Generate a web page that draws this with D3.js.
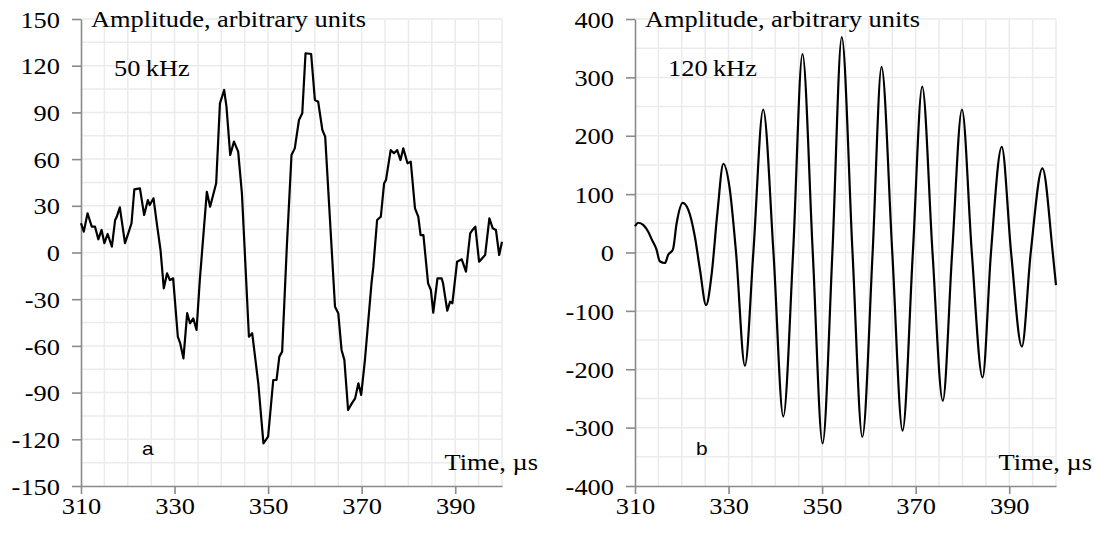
<!DOCTYPE html>
<html>
<head>
<meta charset="utf-8">
<script src="https://cdn.jsdelivr.net/npm/d3@7"></script>
<style>
  html, body { margin: 0; padding: 0; background: #fff; }
  svg { display: block; }
</style>
</head>
<body>
<svg id="chart" width="1094" height="536"></svg>
<script>
// ---------- DATA ----------
const xTicks = [310, 330, 350, 370, 390];
const leftYTicks = [-150, -120, -90, -60, -30, 0, 30, 60, 90, 120, 150];
const rightYTicks = [-400, -300, -200, -100, 0, 100, 200, 300, 400];

// panel a: 50 kHz
const leftTime = [310.0, 310.6, 311.4, 312.3, 313.0, 313.7, 314.4, 315.0, 315.7, 316.6,
  317.3, 317.6, 318.3, 319.4, 320.1, 320.8, 321.4, 322.6, 323.5, 324.3,
  324.7, 325.5, 326.3, 327.0, 327.7, 328.4, 329.0, 329.7, 330.7, 331.2,
  331.9, 332.7, 333.3, 334.0, 334.7, 335.4, 336.9, 337.6, 338.9, 339.7,
  340.6, 341.1, 341.9, 342.7, 343.6, 344.4, 345.9, 346.6, 347.9, 349.0,
  350.0, 351.1, 351.8, 352.4, 353.0, 354.0, 355.0, 355.7, 356.6, 357.3,
  358.0, 359.2, 360.0, 360.7, 361.6, 362.2, 364.3, 365.0, 365.7, 366.3,
  367.1, 367.9, 368.6, 369.3, 369.9, 370.7, 372.1, 372.5, 373.3, 374.1,
  374.8, 375.2, 376.2, 376.9, 377.6, 378.3, 378.9, 379.8, 380.5, 381.4,
  382.1, 382.6, 383.2, 384.2, 384.8, 385.3, 386.2, 387.1, 387.4, 388.3,
  388.9, 389.4, 390.4, 391.4, 392.3, 393.2, 393.7, 394.3, 395.1, 396.4,
  397.3, 398.0, 398.7, 399.4, 400.0];
const leftAmp = [18.8, 13.4, 25.2, 16.6, 16.6, 8.5, 14.5, 6.0, 11.9, 3.7,
  20.9, 22.6, 29.0, 6.0, 12.3, 18.8, 40.6, 41.2, 24.1, 33.7,
  30.5, 34.8, 16.6, 1.6, -23.0, -13.4, -17.7, -16.6, -54.1, -58.3,
  -68.0, -39.0, -45.5, -42.3, -49.8, -17.7, 39.0, 29.4, 44.5, 95.8,
  104.4, 93.7, 62.6, 71.2, 64.8, 38.0, -54.1, -51.9, -84.0, -122.6,
  -118.3, -81.9, -81.9, -66.9, -63.7, 3.7, 62.6, 66.9, 85.1, 89.4,
  128.0, 127.5, 98.0, 96.9, 78.7, 74.4, -34.8, -39.0, -62.6, -69.0,
  -101.2, -96.9, -93.7, -84.0, -91.5, -69.0, -19.8, -9.1, 20.9, 23.0,
  44.5, 46.6, 65.8, 63.7, 65.8, 59.4, 66.9, 57.3, 58.3, 28.4,
  23.0, 11.2, 11.2, -19.8, -24.1, -38.7, -16.6, -16.6, -19.8, -37.4,
  -31.6, -32.6, -5.9, -4.4, -12.3, 12.3, 14.5, 16.6, -5.9, -1.6,
  22.0, 15.6, 14.5, -1.6, 6.9];

// panel b: 120 kHz
const rightTime = [310.0, 310.7, 311.8, 312.8, 313.6, 314.6, 315.3, 316.4, 317.1, 318.1,
  318.9, 320.2, 321.4, 322.8, 323.9, 325.2, 326.4, 327.6, 328.9, 330.2,
  331.6, 333.5, 335.3, 337.4, 339.6, 341.7, 343.8, 345.8, 348.0, 350.1,
  352.2, 354.2, 356.5, 358.6, 360.8, 362.7, 365.0, 367.2, 369.4, 371.4,
  373.6, 375.8, 377.8, 379.9, 382.0, 384.3, 386.1, 388.4, 390.4, 392.7,
  394.6, 397.1, 399.3, 400.0];
const rightAmp = [45, 51, 47, 36, 22, 5, -15, -18, -4, 5,
  50, 85, 73, 27, -30, -90, -36, 67, 152, 112,
  0, -194, 0, 245, 0, -281, 0, 340, 0, -327,
  0, 369, 0, -316, 0, 318, 0, -305, 0, 284,
  0, -254, 0, 245, 0, -214, 0, 181, 0, -161,
  0, 144, 0, -56];

const panels = [
  { time: leftTime, amp: leftAmp, yTicks: leftYTicks, yMin: -150, yMax: 150, yGrid: 15,
    x0: 81, x1: 502, freq: "50\u2009kHz", letter: "a", curve: d3.curveLinear, lw: 2.2 },
  { time: rightTime, amp: rightAmp, yTicks: rightYTicks, yMin: -400, yMax: 400, yGrid: 50,
    x0: 635, x1: 1056, freq: "120\u2009kHz", letter: "b", curve: d3.curveMonotoneX, lw: 2.2 }
];

// ---------- DRAW ----------
const svg = d3.select("#chart");
const TOP = 19, BOT = 486;
const SERIF = "Liberation Serif";
const SANS = "Liberation Sans";
const FS = 24;
const STRETCH = 1.1;
const axisColor = "#8a8a8a";
const gridColor = "#ebebeb";

function stretchText(sel) {
  sel.each(function () {
    const w = this.getComputedTextLength();
    if (w > 0) {
      d3.select(this).attr("textLength", w * STRETCH).attr("lengthAdjust", "spacingAndGlyphs");
    }
  });
}

panels.forEach(p => {
  const x = d3.scaleLinear().domain([310, 400]).range([p.x0, p.x1]);
  const y = d3.scaleLinear().domain([p.yMin, p.yMax]).range([BOT, TOP]);
  const g = svg.append("g");

  // grid
  const gx = d3.range(315, 400.001, 5);
  const gy = d3.range(p.yMin + p.yGrid, p.yMax + 0.001, p.yGrid);
  g.append("g").selectAll("line").data(gx).join("line")
    .attr("x1", d => x(d)).attr("x2", d => x(d))
    .attr("y1", TOP).attr("y2", BOT)
    .attr("stroke", gridColor).attr("stroke-width", 1.5);
  g.append("g").selectAll("line").data(gy).join("line")
    .attr("x1", p.x0).attr("x2", p.x1)
    .attr("y1", d => y(d)).attr("y2", d => y(d))
    .attr("stroke", gridColor).attr("stroke-width", 1.5);

  // axes
  const ya = g.append("g").attr("transform", `translate(${p.x0},0)`)
    .call(d3.axisLeft(y).tickValues(p.yTicks).tickSize(9).tickSizeOuter(0).tickPadding(12)
      .tickFormat(d => String(d)));
  const xa = g.append("g").attr("transform", `translate(0,${BOT})`)
    .call(d3.axisBottom(x).tickValues(xTicks).tickSize(8).tickSizeOuter(0).tickPadding(3)
      .tickFormat(d => String(d)));
  [ya, xa].forEach(a => {
    a.select(".domain").attr("stroke", axisColor).attr("stroke-width", 1.6);
    a.selectAll(".tick line").attr("stroke", axisColor).attr("stroke-width", 1.6);
    a.selectAll("text").attr("font-family", SERIF).attr("font-size", FS).attr("fill", "#000");
  });
  ya.selectAll("text").attr("dy", "0.34em");

  // line
  const line = d3.line().x(d => x(d[0])).y(d => y(d[1])).curve(p.curve);
  g.append("path").datum(d3.zip(p.time, p.amp))
    .attr("d", line).attr("fill", "none").attr("stroke", "#000")
    .attr("stroke-width", p.lw).attr("stroke-linejoin", "round");

  // labels
  g.append("text").attr("x", p.x0 + 10).attr("y", 27)
    .attr("font-family", SERIF).attr("font-size", FS).text("Amplitude, arbitrary units");
  g.append("text").attr("x", p.x0 + 33).attr("y", 76)
    .attr("font-family", SERIF).attr("font-size", FS).text(p.freq);
  g.append("text").attr("x", p.x1 + 36).attr("y", 470).attr("text-anchor", "end")
    .attr("font-family", SERIF).attr("font-size", FS).text("Time, µs");
  g.append("text").attr("x", p.x0 + 61).attr("y", 455)
    .attr("font-family", SANS).attr("font-size", 19).text(p.letter);
});

stretchText(svg.selectAll("text"));
</script>
</body>
</html>
